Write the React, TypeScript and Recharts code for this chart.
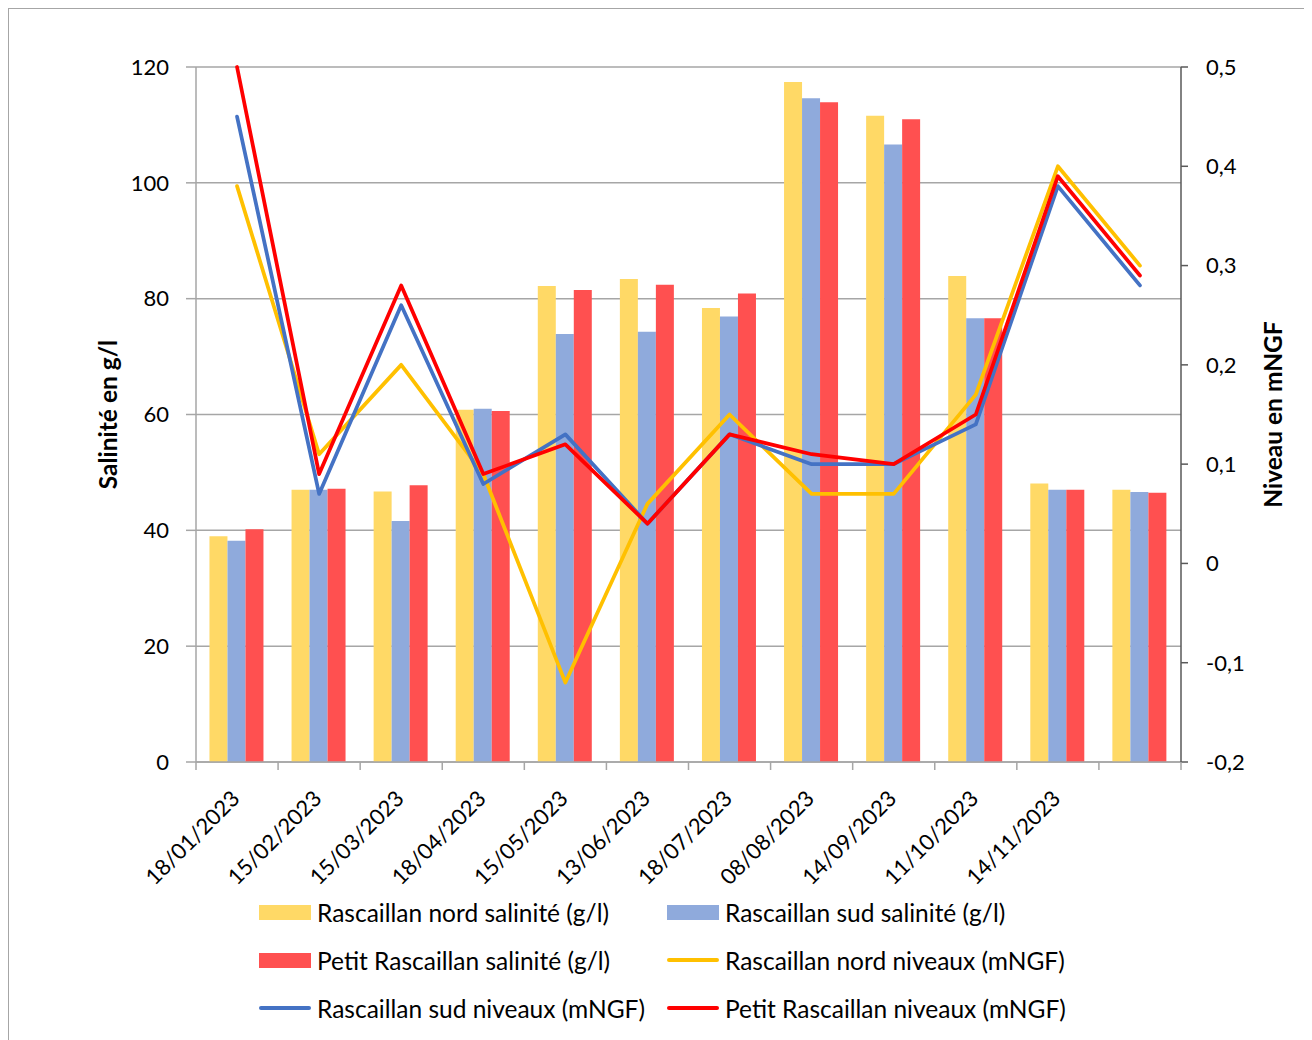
import React from "react";
import {
  ComposedChart,
  Bar,
  Line,
  XAxis,
  YAxis,
  CartesianGrid,
  Legend,
} from "recharts";

const categories = [
  "18/01/2023",
  "15/02/2023",
  "15/03/2023",
  "18/04/2023",
  "15/05/2023",
  "13/06/2023",
  "18/07/2023",
  "08/08/2023",
  "14/09/2023",
  "11/10/2023",
  "14/11/2023",
  "",
];

const nordSalinite = [39, 47, 46.7, 60.8, 82.2, 83.4, 78.4, 117.4, 111.6, 83.9, 48.1, 47];
const sudSalinite = [38.2, 47, 41.6, 61, 73.9, 74.3, 76.9, 114.6, 106.6, 76.6, 47, 46.6];
const petitSalinite = [40.2, 47.2, 47.8, 60.6, 81.5, 82.4, 80.9, 113.9, 111, 76.6, 47, 46.5];

const nordNiveaux = [0.38, 0.11, 0.2, 0.09, -0.12, 0.06, 0.15, 0.07, 0.07, 0.17, 0.4, 0.3];
const sudNiveaux = [0.45, 0.07, 0.26, 0.08, 0.13, 0.04, 0.13, 0.1, 0.1, 0.14, 0.38, 0.28];
const petitNiveaux = [0.5, 0.09, 0.28, 0.09, 0.12, 0.04, 0.13, 0.11, 0.1, 0.15, 0.39, 0.29];

const leftTicks = [0, 20, 40, 60, 80, 100, 120];
const rightTicks = [-0.2, -0.1, 0, 0.1, 0.2, 0.3, 0.4, 0.5];
const rightTickLabels = ["-0,2", "-0,1", "0", "0,1", "0,2", "0,3", "0,4", "0,5"];

const seriesNames = {
  nordSal: "Rascaillan nord salinité (g/l)",
  sudSal: "Rascaillan sud salinité (g/l)",
  petitSal: "Petit Rascaillan salinité (g/l)",
  nordNiv: "Rascaillan nord niveaux (mNGF)",
  sudNiv: "Rascaillan sud niveaux (mNGF)",
  petitNiv: "Petit Rascaillan niveaux (mNGF)",
};

const colors = {
  nordSal: "#FFD966",
  sudSal: "#8FAADC",
  petitSal: "#FF5050",
  nordNiv: "#FFC000",
  sudNiv: "#4472C4",
  petitNiv: "#FF0000",
};

const data = categories.map((c, i) => ({
  date: c,
  nordSal: nordSalinite[i],
  sudSal: sudSalinite[i],
  petitSal: petitSalinite[i],
  nordNiv: nordNiveaux[i],
  sudNiv: sudNiveaux[i],
  petitNiv: petitNiveaux[i],
}));

const FONT = "Lato, 'Open Sans', sans-serif";
const FS = 22;
const FS_TEXT = 24.5;
const CHART_W = 1300;
const CHART_H = 1030;
const LEFT_W = 187;
const RIGHT_W = 128;
const BAND = (CHART_W - LEFT_W - RIGHT_W) / categories.length;
const LINE_W = 3.75;

const XTick = (props: any) => {
  const { x, y, payload, index } = props;
  const half = BAND / 2;
  const tx = x + 4;
  const ty = y + 38;
  return (
    <g>
      <line x1={x - half} y1={y} x2={x - half} y2={y + 8} stroke="#a6a6a6" strokeWidth={1.5} />
      {index === categories.length - 1 && (
        <line x1={x + half} y1={y} x2={x + half} y2={y + 8} stroke="#a6a6a6" strokeWidth={1.5} />
      )}
      <text
        x={tx}
        y={ty}
        textAnchor="end"
        transform={`rotate(-45, ${tx}, ${ty})`}
        fontFamily={FONT}
        fontSize={FS}
        fill="#000"
      >
        {payload.value}
      </text>
    </g>
  );
};

const LeftTitle = (props: any) => {
  const { viewBox } = props;
  const cx = viewBox.x + 98;
  const cy = viewBox.y + viewBox.height / 2;
  return (
    <text
      x={cx}
      y={cy}
      textAnchor="middle"
      dominantBaseline="central"
      transform={`rotate(-90, ${cx}, ${cy})`}
      fontFamily={FONT}
      fontSize={FS_TEXT}
      fontWeight="bold"
      fill="#000"
    >
      Salinité en g/l
    </text>
  );
};

const RightTitle = (props: any) => {
  const { viewBox } = props;
  const cx = viewBox.x + 91;
  const cy = viewBox.y + viewBox.height / 2;
  return (
    <text
      x={cx}
      y={cy}
      textAnchor="middle"
      dominantBaseline="central"
      transform={`rotate(-90, ${cx}, ${cy})`}
      fontFamily={FONT}
      fontSize={FS_TEXT}
      fontWeight="bold"
      fill="#000"
    >
      Niveau en mNGF
    </text>
  );
};

const legendOrder: (keyof typeof seriesNames)[] = [
  "nordSal",
  "sudSal",
  "petitSal",
  "nordNiv",
  "sudNiv",
  "petitNiv",
];

const LegendContent = () => (
  <div
    style={{
      display: "grid",
      gridTemplateColumns: "408px 440px",
      gridAutoRows: "48px",
      fontFamily: FONT,
      fontSize: FS_TEXT,
      color: "#000",
    }}
  >
    {legendOrder.map((k) => {
      const isBar = k.endsWith("Sal");
      return (
        <div key={k} style={{ display: "flex", alignItems: "center" }}>
          <div style={{ width: 52, height: 15, display: "flex", alignItems: "center", flexShrink: 0 }}>
            {isBar ? (
              <div style={{ width: 52, height: 15, background: colors[k] }} />
            ) : (
              <div style={{ width: 52, height: 4, borderRadius: 2, background: colors[k] }} />
            )}
          </div>
          <span style={{ marginLeft: 6, whiteSpace: "nowrap" }}>{seriesNames[k]}</span>
        </div>
      );
    })}
  </div>
);

export default function App() {
  return (
    <div
      style={{
        width: 1302,
        height: 1040,
        border: "1px solid #a6a6a6",
        boxSizing: "border-box",
        background: "#fff",
      }}
    >
      <ComposedChart
        width={CHART_W}
        height={CHART_H}
        data={data}
        margin={{ top: 58, right: 0, bottom: 127, left: 0 }}
        barCategoryGap="16.4%"
        barGap={0}
      >
        <CartesianGrid
          yAxisId="left"
          vertical={false}
          stroke="#a6a6a6"
          strokeWidth={1.5}
        />
        <XAxis
          dataKey="date"
          interval={0}
          height={150}
          tickSize={0}
          tickMargin={0}
          tick={<XTick />}
          axisLine={{ stroke: "#a6a6a6", strokeWidth: 1.5 }}
          tickLine={false}
        />
        <YAxis
          yAxisId="left"
          orientation="left"
          width={LEFT_W}
          domain={[0, 120]}
          ticks={leftTicks}
          interval={0}
          tickSize={10}
          tickMargin={17}
          axisLine={{ stroke: "#a6a6a6", strokeWidth: 1.5 }}
          tickLine={{ stroke: "#a6a6a6", strokeWidth: 1.5 }}
          tick={{ fill: "#000", fontSize: FS, fontFamily: FONT }}
          label={<LeftTitle />}
        />
        <YAxis
          yAxisId="right"
          orientation="right"
          width={RIGHT_W}
          domain={[-0.2, 0.5]}
          ticks={rightTicks}
          interval={0}
          tickSize={7}
          tickMargin={18}
          tickFormatter={(v: number) => {
            const i = rightTicks.findIndex((t) => Math.abs(t - v) < 1e-9);
            return i >= 0 ? rightTickLabels[i] : String(v);
          }}
          axisLine={{ stroke: "#595959", strokeWidth: 1.5 }}
          tickLine={{ stroke: "#595959", strokeWidth: 1.5 }}
          tick={{ fill: "#000", fontSize: FS, fontFamily: FONT }}
          label={<RightTitle />}
        />
        <Bar yAxisId="left" dataKey="nordSal" name={seriesNames.nordSal} fill={colors.nordSal} isAnimationActive={false} />
        <Bar yAxisId="left" dataKey="sudSal" name={seriesNames.sudSal} fill={colors.sudSal} isAnimationActive={false} />
        <Bar yAxisId="left" dataKey="petitSal" name={seriesNames.petitSal} fill={colors.petitSal} isAnimationActive={false} />
        <Line yAxisId="right" type="linear" dataKey="nordNiv" name={seriesNames.nordNiv} stroke={colors.nordNiv} strokeWidth={LINE_W} dot={false} strokeLinecap="round" strokeLinejoin="round" isAnimationActive={false} />
        <Line yAxisId="right" type="linear" dataKey="sudNiv" name={seriesNames.sudNiv} stroke={colors.sudNiv} strokeWidth={LINE_W} dot={false} strokeLinecap="round" strokeLinejoin="round" isAnimationActive={false} />
        <Line yAxisId="right" type="linear" dataKey="petitNiv" name={seriesNames.petitNiv} stroke={colors.petitNiv} strokeWidth={LINE_W} dot={false} strokeLinecap="round" strokeLinejoin="round" isAnimationActive={false} />
        <Legend
          layout="horizontal"
          verticalAlign="middle"
          align="center"
          content={<LegendContent />}
          wrapperStyle={{ position: "absolute", left: 250, top: 879, width: 860, height: 150 }}
        />
      </ComposedChart>
    </div>
  );
}
